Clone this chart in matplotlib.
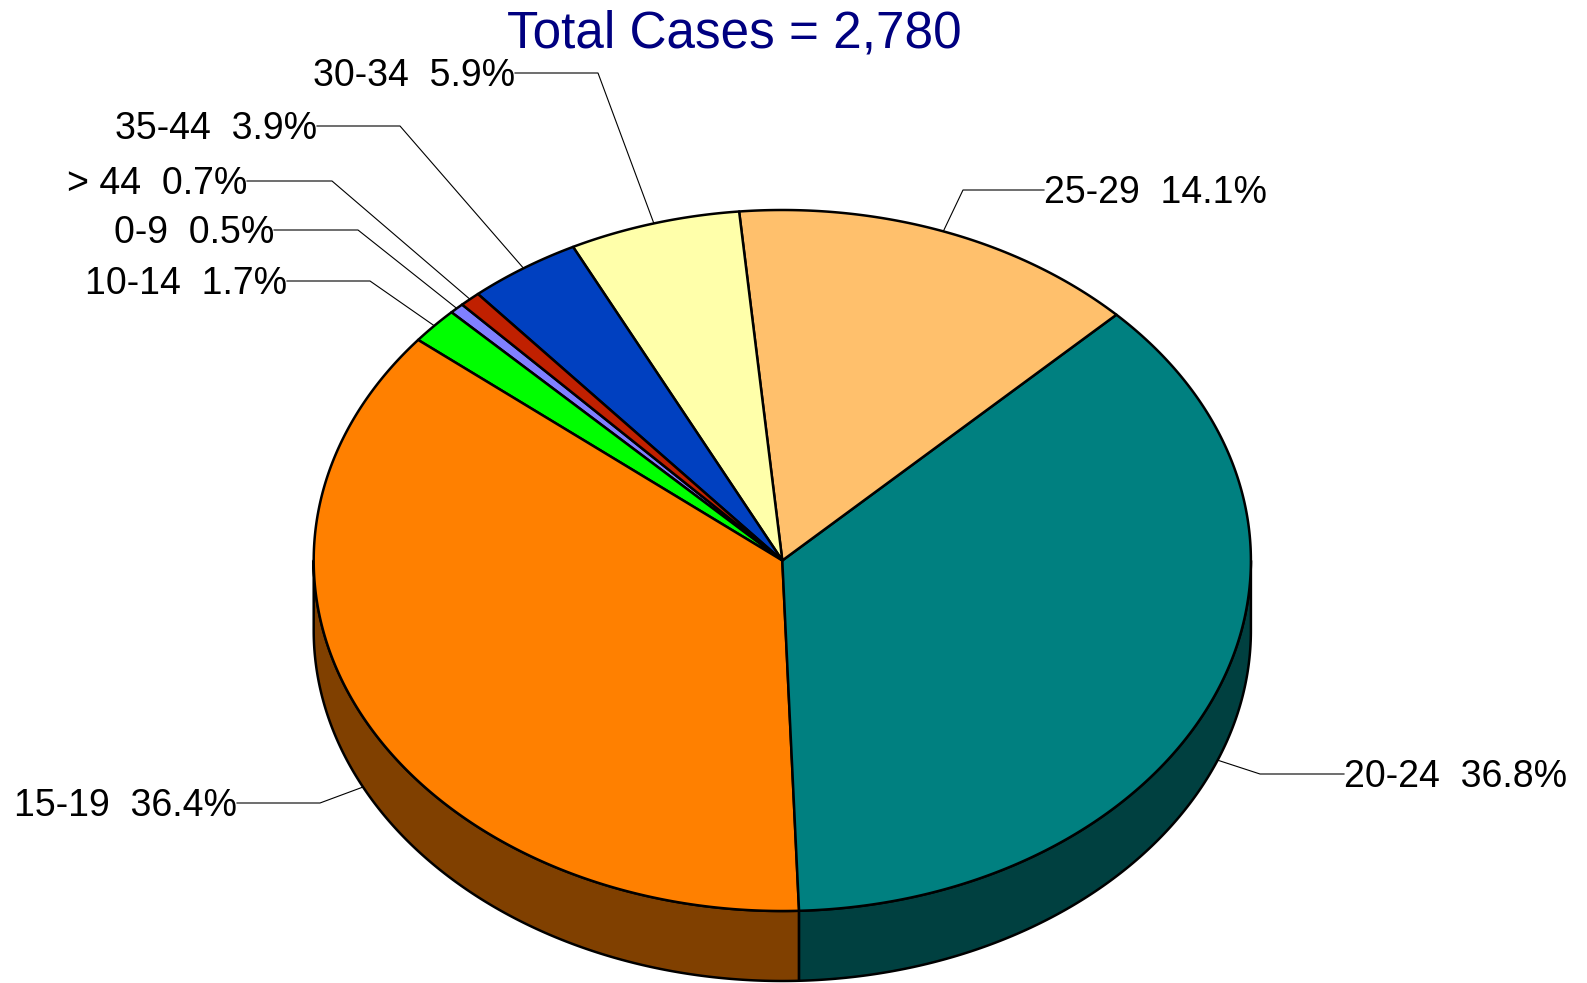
import numpy as np
import matplotlib
matplotlib.use("Agg")
import matplotlib.pyplot as plt
from matplotlib.patches import Polygon

# --- data ---
categories = ['0-9', '10-14', '15-19', '20-24', '25-29', '30-34', '35-44', '> 44']
counts = [14, 47, 1012, 1023, 392, 164, 108, 20]
title = 'Total Cases = 2,780'

# --- style ---
colors = ['#8080FF', '#00FF00', '#FF8000', '#008080', '#FFC06C', '#FFFFAA', '#0040C0', '#C02000']
start_angle = 133.1          # degrees, counter-clockwise
cx, cy = 782.3, 560.5        # pie centre (pixels)
rx, ry, depth = 468.6, 350.5, 70.0

# label layout: elbow x, line y, text x, alignment
label_pos = {
    '0-9':   (358, 230, 274, 'right'),
    '10-14': (370, 281, 287, 'right'),
    '15-19': (320, 803, 237, 'right'),
    '20-24': (1260, 774, 1344, 'left'),
    '25-29': (963, 190, 1044, 'left'),
    '30-34': (598, 73, 515, 'right'),
    '35-44': (400, 126, 317, 'right'),
    '> 44':  (332, 181, 247, 'right'),
}

plt.rcParams['font.family'] = ['Liberation Sans', 'DejaVu Sans']

W, H = 1587, 983
fig = plt.figure(figsize=(W / 100, H / 100), dpi=100)
ax = fig.add_axes([0, 0, 1, 1])
ax.set_xlim(0, W)
ax.set_ylim(H, 0)
ax.axis('off')


def pt(a, dy=0.0):
    r = np.radians(a)
    return cx + rx * np.cos(r), cy - ry * np.sin(r) + dy


def darker(c, f=0.5):
    rgb = np.array(matplotlib.colors.to_rgb(c))
    return tuple(rgb * f)


total = sum(counts)
angles = np.array(counts) / total * 360.0
a0s = start_angle + np.concatenate([[0], np.cumsum(angles)[:-1]])
a1s = a0s + angles

# side walls (front half only)
for a0, a1, col in zip(a0s, a1s, colors):
    for lo, hi in [(180, 360), (540, 720)]:
        s, e = max(a0, lo), min(a1, hi)
        if e <= s:
            continue
        t = np.linspace(s, e, 200)
        top = [pt(v) for v in t]
        bot = [pt(v, depth) for v in t[::-1]]
        ax.add_patch(Polygon(top + bot, closed=True, facecolor=darker(col),
                             edgecolor='black', linewidth=1.8, joinstyle='round'))

# top faces
for a0, a1, col in zip(a0s, a1s, colors):
    t = np.linspace(a0, a1, max(int(a1 - a0) * 3, 10))
    verts = [(cx, cy)] + [pt(v) for v in t]
    ax.add_patch(Polygon(verts, closed=True, facecolor=col,
                         edgecolor='black', linewidth=1.8, joinstyle='round'))

# labels with leader lines
for cat, cnt, a0, a1 in zip(categories, counts, a0s, a1s):
    mid = (a0 + a1) / 2
    front = np.sin(np.radians(mid)) < 0
    ax_, ay_ = pt(mid, depth if front else 0)
    ex, ly, tx, ha = label_pos[cat]
    ax.plot([tx, ex, ax_], [ly, ly, ay_], color='black', linewidth=0.8)
    pct = cnt / total * 100
    ax.text(tx, ly + 13.4, f'{cat}  {pct:.1f}%', ha=ha, va='baseline',
            fontsize=27, color='black')

ax.text(734, 47, title, ha='center', va='baseline', fontsize=36.9, color='#000080')

fig.savefig('out.png', dpi=100)
